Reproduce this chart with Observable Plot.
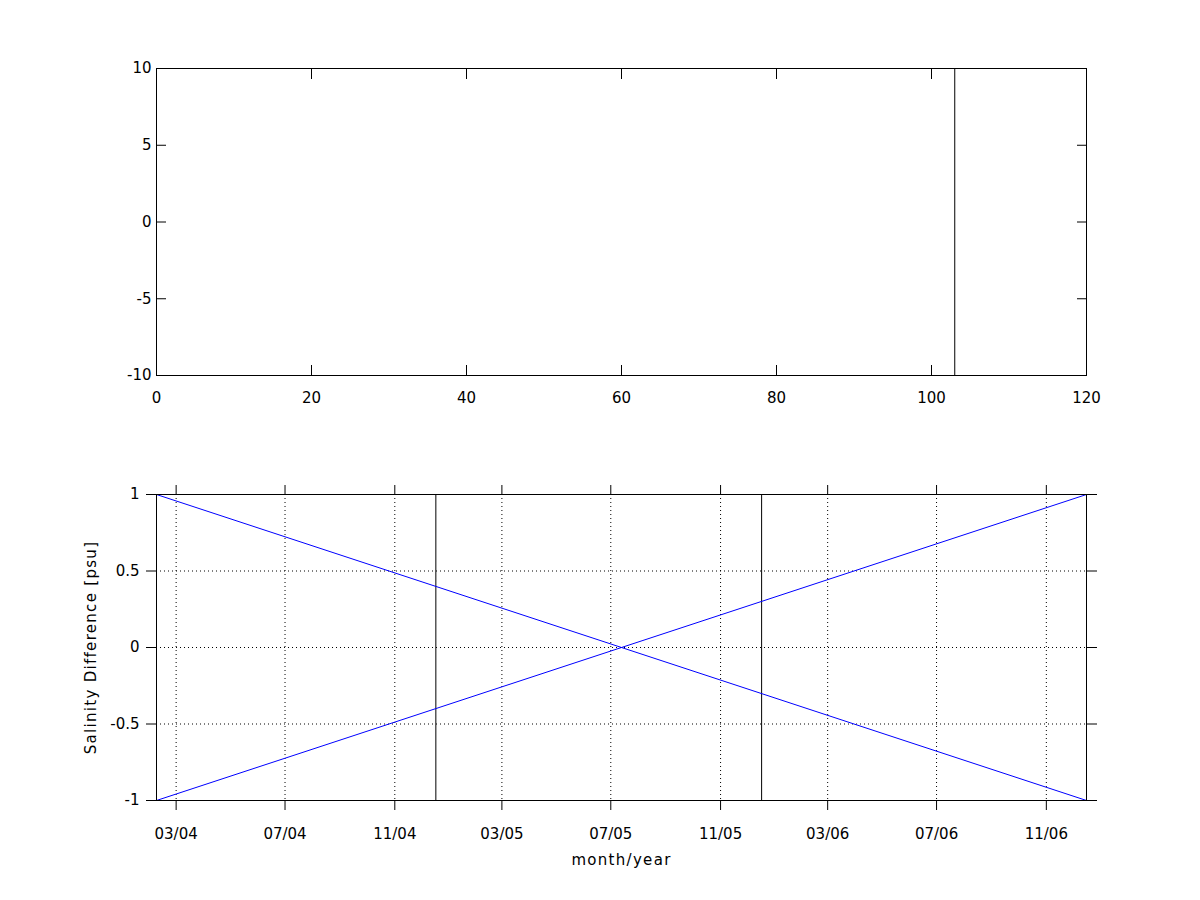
<!DOCTYPE html>
<html>
<head>
<meta charset="utf-8">
<script src="https://cdn.jsdelivr.net/npm/d3@7"></script>
<script src="https://cdn.jsdelivr.net/npm/@observablehq/plot@0.6"></script>
<style>
  body { margin: 0; background: #ffffff; }
  #chart { width: 1200px; height: 900px; background: #ffffff; }
  #chart svg { display: block; }
  #chart svg text { letter-spacing: 0px; }
  #chart svg .axis-title text, #chart svg text.axis-title { letter-spacing: 1.3px; }
</style>
</head>
<body>
<div id="chart"></div>
<script>
// ---------- data: top panel ----------
const topXDomain = [0, 120];
const topYDomain = [-10, 10];
const topXTicks = [0, 20, 40, 60, 80, 100, 120];
const topYTicks = [-10, -5, 0, 5, 10];
const topMarkerX = [103];

// ---------- data: bottom panel ----------
const bottomDateTicks = ["2004-03-01", "2004-07-01", "2004-11-01", "2005-03-01", "2005-07-01",
                         "2005-11-01", "2006-03-01", "2006-07-01", "2006-11-01"];
const bottomYDomain = [-1, 1];
const bottomYTicks = [-1, -0.5, 0, 0.5, 1];
const lineDates = ["2004-02-08", "2006-12-16"];
const seriesDecreasing = [1, -1];
const seriesIncreasing = [-1, 1];
const cycleDates = ["2004-12-17", "2005-12-17"];
const xLabel = "month/year";
const yLabel = "Salinity Difference [psu]";

const parse = d3.utcParse("%Y-%m-%d");
const dateTicks = bottomDateTicks.map(parse);
const dates = lineDates.map(parse);
const cycles = cycleDates.map(parse);
const lineA = dates.map((d, i) => ({date: d, value: seriesDecreasing[i]}));
const lineB = dates.map((d, i) => ({date: d, value: seriesIncreasing[i]}));

const font = "'DejaVu Sans', 'Liberation Sans', Arial, sans-serif";
const baseStyle = {fontFamily: font, fontSize: "15px", color: "black", background: "white", overflow: "visible"};
const blank = () => "";
const plain = d => String(d);

const topPlot = Plot.plot({
  width: 1200, height: 450,
  marginLeft: 156, marginRight: 114, marginTop: 68, marginBottom: 75,
  style: baseStyle,
  x: {domain: topXDomain},
  y: {domain: topYDomain},
  marks: [
    Plot.ruleX(topMarkerX, {stroke: "black", strokeWidth: 1}),
    Plot.frame({stroke: "black", strokeWidth: 1}),
    Plot.axisX({anchor: "bottom", ticks: topXTicks, tickSize: -10, tickFormat: blank, label: null}),
    Plot.axisX({anchor: "top", ticks: topXTicks, tickSize: -10, tickFormat: blank, label: null}),
    Plot.axisY({anchor: "left", ticks: topYTicks, tickSize: -10, tickFormat: blank, label: null}),
    Plot.axisY({anchor: "right", ticks: topYTicks, tickSize: -10, tickFormat: blank, label: null}),
    Plot.axisX({anchor: "bottom", ticks: topXTicks, tickSize: 0, tickPadding: 17, label: null, tickFormat: plain}),
    Plot.axisY({anchor: "left", ticks: topYTicks, tickSize: 0, tickPadding: 5, label: null, tickFormat: plain})
  ]
});

const bottomPlot = Plot.plot({
  width: 1200, height: 450,
  marginLeft: 156, marginRight: 114, marginTop: 44, marginBottom: 100,
  style: baseStyle,
  x: {type: "utc", domain: [dates[0], dates[dates.length - 1]]},
  y: {domain: bottomYDomain},
  marks: [
    Plot.gridX({ticks: dateTicks, stroke: "black", strokeOpacity: 1, strokeDasharray: "1,3"}),
    Plot.gridY({ticks: bottomYTicks, stroke: "black", strokeOpacity: 1, strokeDasharray: "1,3"}),
    Plot.ruleX(cycles, {stroke: "black", strokeWidth: 1}),
    Plot.line(lineA, {x: "date", y: "value", stroke: "#0000ff", strokeWidth: 1}),
    Plot.line(lineB, {x: "date", y: "value", stroke: "#0000ff", strokeWidth: 1}),
    Plot.frame({stroke: "black", strokeWidth: 1}),
    Plot.ruleY(bottomYDomain, {stroke: "black", strokeWidth: 1, insetLeft: -10, insetRight: -10}),
    Plot.axisX({anchor: "bottom", ticks: dateTicks, tickSize: 10, tickFormat: blank, label: null}),
    Plot.axisX({anchor: "top", ticks: dateTicks, tickSize: 10, tickFormat: blank, label: null}),
    Plot.axisY({anchor: "left", ticks: bottomYTicks, tickSize: 10, tickFormat: blank, label: null}),
    Plot.axisY({anchor: "right", ticks: bottomYTicks, tickSize: 10, tickFormat: blank, label: null}),
    Plot.axisX({anchor: "bottom", ticks: dateTicks, tickSize: 0, tickPadding: 28, label: null, tickFormat: d3.utcFormat("%m/%y")}),
    Plot.axisY({anchor: "left", ticks: bottomYTicks, tickSize: 0, tickPadding: 17, label: null, tickFormat: plain}),
    Plot.text([xLabel], {frameAnchor: "bottom", dy: 60, lineAnchor: "middle", textAnchor: "middle", fill: "black", className: "axis-title"}),
    Plot.text([yLabel], {frameAnchor: "left", dx: -65, rotate: -90, lineAnchor: "middle", textAnchor: "middle", fill: "black", className: "axis-title"})
  ]
});

const chart = document.getElementById("chart");
chart.appendChild(topPlot);
chart.appendChild(bottomPlot);
</script>
</body>
</html>
